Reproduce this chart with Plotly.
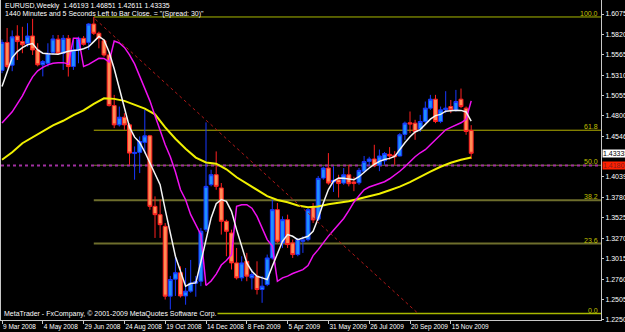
import plotly.graph_objects as go

# ---------------- data ----------------
symbol = "EURUSD,Weekly"
timer_text = '1440 Minutes and 5 Seconds Left to Bar Close. = "(Spread: 30)"'
copyright_text = "MetaTrader - FxCompany, \u00a9 2001-2009 MetaQuotes Software Corp."

date_labels = ["9 Mar 2008", "4 May 2008", "29 Jun 2008", "24 Aug 2008", "19 Oct 2008",
               "14 Dec 2008", "8 Feb 2009", "5 Apr 2009", "31 May 2009", "26 Jul 2009",
               "20 Sep 2009", "15 Nov 2009"]
date_label_bars = [0, 8, 16, 24, 32, 40, 48, 56, 64, 72, 80, 88]

price_ticks = [1.6075, 1.5820, 1.5565, 1.5310, 1.5055, 1.4800, 1.4546, 1.4039,
               1.3780, 1.3525, 1.3270, 1.3015, 1.2760, 1.2505, 1.2250]
price_tick_labels = ["1.60750", "1.58200", "1.55650", "1.53100", "1.50550", "1.48000",
                     "1.45460", "1.40390", "1.37800", "1.35250", "1.32700", "1.30150",
                     "1.27600", "1.25050", "1.22500"]

opens = [1.5370, 1.5720, 1.5435, 1.5800, 1.5730, 1.5705, 1.5800, 1.5626, 1.5440, 1.5459,
         1.5596, 1.5760, 1.5584, 1.5771, 1.5418, 1.5626, 1.5771, 1.5720, 1.5950, 1.5834,
         1.5740, 1.5563, 1.4930, 1.4689, 1.4785, 1.4689, 1.4330, 1.4345, 1.4470, 1.4552,
         1.3670, 1.3566, 1.3420, 1.2547, 1.2760, 1.2840, 1.2550, 1.2610, 1.2710, 1.2734,
         1.3379, 1.3941, 1.4066, 1.3900, 1.3483, 1.3337, 1.2963, 1.2776, 1.2983, 1.2776,
         1.2797, 1.2630, 1.2692, 1.3025, 1.3629, 1.3213, 1.3504, 1.3213, 1.3067, 1.3233,
         1.3254, 1.3660, 1.3510, 1.4024, 1.4149, 1.3975, 1.4003, 1.3961, 1.4065, 1.3975,
         1.3965, 1.4110, 1.4232, 1.4262, 1.4185, 1.4240, 1.4320, 1.4310, 1.4300, 1.4570,
         1.4715, 1.4710, 1.4640, 1.4731, 1.4898, 1.5010, 1.4731, 1.4877, 1.4918, 1.4877,
         1.5010, 1.4898, 1.46193]
highs = [1.5755, 1.5900, 1.5870, 1.5935, 1.5915, 1.5960, 1.6015, 1.5710, 1.5500, 1.5709,
         1.5813, 1.5813, 1.5813, 1.5813, 1.5750, 1.5792, 1.5800, 1.5960, 1.6038, 1.5855,
         1.5760, 1.5580, 1.5064, 1.4918, 1.4835, 1.4710, 1.4419, 1.4544, 1.4876, 1.4564,
         1.3795, 1.3754, 1.3462, 1.2800, 1.3040, 1.2920, 1.2900, 1.3000, 1.2800, 1.3400,
         1.4720, 1.4128, 1.4357, 1.3962, 1.3504, 1.3379, 1.3150, 1.3046, 1.3088, 1.2880,
         1.2983, 1.2797, 1.3067, 1.3754, 1.3712, 1.3545, 1.3566, 1.3254, 1.3275, 1.3296,
         1.3650, 1.3712, 1.4050, 1.4169, 1.4336, 1.4169, 1.4065, 1.4149, 1.4190, 1.4040,
         1.4150, 1.4300, 1.4290, 1.4440, 1.4380, 1.4350, 1.4411, 1.4360, 1.4586, 1.4730,
         1.4856, 1.4752, 1.4814, 1.4981, 1.5064, 1.5064, 1.4918, 1.5110, 1.5000, 1.5126,
         1.5143, 1.4918, 1.46851]
lows = [1.5335, 1.5395, 1.5360, 1.5500, 1.5585, 1.5665, 1.5563, 1.5420, 1.5295, 1.5418,
        1.5563, 1.5563, 1.5376, 1.5293, 1.5376, 1.5459, 1.5680, 1.5626, 1.5813, 1.5646,
        1.5542, 1.4918, 1.4648, 1.4668, 1.4627, 1.4190, 1.4003, 1.4086, 1.4330, 1.3628,
        1.3275, 1.3275, 1.2505, 1.2330, 1.2550, 1.2530, 1.2440, 1.2590, 1.2540, 1.2672,
        1.3350, 1.3920, 1.3878, 1.3317, 1.3046, 1.2880, 1.2755, 1.2734, 1.2734, 1.2630,
        1.2568, 1.2464, 1.2672, 1.3005, 1.3213, 1.3150, 1.3150, 1.3025, 1.3046, 1.3088,
        1.3233, 1.3462, 1.3490, 1.4003, 1.3940, 1.3850, 1.3780, 1.3940, 1.3920, 1.3860,
        1.3940, 1.4086, 1.4180, 1.4160, 1.4110, 1.4190, 1.4253, 1.4190, 1.4294, 1.4500,
        1.4586, 1.4502, 1.4600, 1.4710, 1.4877, 1.4710, 1.4710, 1.4835, 1.4835, 1.4856,
        1.4898, 1.4565, 1.42611]
closes = [1.5720, 1.5420, 1.5790, 1.5730, 1.5690, 1.5800, 1.5626, 1.5440, 1.5480, 1.5584,
          1.5763, 1.5584, 1.5771, 1.5418, 1.5626, 1.5771, 1.5696, 1.5950, 1.5834, 1.5771,
          1.5563, 1.4930, 1.4689, 1.4785, 1.4689, 1.4336, 1.4345, 1.4481, 1.4552, 1.3670,
          1.3566, 1.3441, 1.2547, 1.2755, 1.2840, 1.2550, 1.2610, 1.2710, 1.2730, 1.3358,
          1.3920, 1.4066, 1.3920, 1.3483, 1.3358, 1.2963, 1.2776, 1.2963, 1.2797, 1.2817,
          1.2630, 1.2672, 1.3025, 1.3629, 1.3233, 1.3504, 1.3192, 1.3067, 1.3254, 1.3250,
          1.3629, 1.3500, 1.4020, 1.4149, 1.3961, 1.3995, 1.3955, 1.4065, 1.3953, 1.3955,
          1.4120, 1.4230, 1.4262, 1.4180, 1.4300, 1.4330, 1.4300, 1.4290, 1.4565, 1.4710,
          1.4700, 1.4606, 1.4731, 1.4898, 1.5010, 1.4731, 1.4877, 1.4898, 1.4877, 1.4981,
          1.4918, 1.4606, 1.43335]

white_ma = [1.5168, 1.5350, 1.5530, 1.5605, 1.5655, 1.5690, 1.5705, 1.5625, 1.5585, 1.5578,
            1.5572, 1.5572, 1.5590, 1.5610, 1.5618, 1.5624, 1.5640, 1.5667, 1.5730, 1.5795,
            1.5750, 1.5600, 1.5390, 1.5140, 1.4890, 1.4660, 1.4535, 1.4470, 1.4350, 1.4220,
            1.4090, 1.3941, 1.3629, 1.3337, 1.3046, 1.2859, 1.2672, 1.2705, 1.2713, 1.2975,
            1.3263, 1.3525, 1.3704, 1.3754, 1.3733, 1.3608, 1.3379, 1.3171, 1.2963, 1.2859,
            1.2796, 1.2776, 1.2755, 1.2921, 1.3088, 1.3233, 1.3317, 1.3296, 1.3254, 1.3275,
            1.3296, 1.3358, 1.3520, 1.3712, 1.3880, 1.3985, 1.4024, 1.4020, 1.4012, 1.4003,
            1.4040, 1.4100, 1.4150, 1.4195, 1.4232, 1.4255, 1.4270, 1.4295, 1.4385, 1.4465,
            1.4540, 1.4600, 1.4630, 1.4690, 1.4760, 1.4805, 1.4820, 1.4860, 1.4870, 1.4872,
            1.4870, 1.4850, 1.4735]

magenta_ma = [1.4711, 1.4777, 1.4852, 1.4952, 1.5052, 1.5177, 1.5289, 1.5364, 1.5408, 1.5439,
              1.5460, 1.5467, 1.5467, 1.5451, 1.5772, 1.5772, 1.5418, 1.5445, 1.5489, 1.5522,
              1.5520, 1.5476, 1.5738, 1.5713, 1.5657, 1.5564, 1.5451, 1.5301, 1.5139, 1.4989,
              1.4802, 1.4615, 1.4440, 1.4290, 1.4103, 1.3878, 1.3753, 1.3566, 1.3441, 1.3316,
              1.2680, 1.2736, 1.2823, 1.2936, 1.2992, 1.3067, 1.3670, 1.3691, 1.3691, 1.3647,
              1.3545, 1.3404, 1.3254, 1.3173, 1.2733, 1.2776, 1.2798, 1.2830, 1.2854, 1.2879,
              1.2929, 1.3054, 1.3129, 1.3217, 1.3298, 1.3372, 1.3447, 1.3519, 1.3616, 1.3722,
              1.3803, 1.3878, 1.3912, 1.3936, 1.3957, 1.3978, 1.4015, 1.4059, 1.4109, 1.4165,
              1.4228, 1.4290, 1.4340, 1.4378, 1.4440, 1.4502, 1.4565, 1.4627, 1.4658, 1.4690,
              1.4715, 1.4758, 1.4989]

yellow_bars = list(range(0, 93, 2))
yellow_ma = [1.4253, 1.4346, 1.4459, 1.4534, 1.4602, 1.4683, 1.4740, 1.4811, 1.4871, 1.4952,
             1.5021, 1.5014, 1.4989, 1.4939, 1.4892, 1.4821, 1.4658, 1.4515, 1.4390, 1.4280,
             1.4219, 1.4203, 1.4134, 1.4034, 1.3953, 1.3872, 1.3797, 1.3750, 1.3722, 1.3681,
             1.3660, 1.3668, 1.3697, 1.3716, 1.3735, 1.3766, 1.3795, 1.3828, 1.3872, 1.3916,
             1.3972, 1.4040, 1.4103, 1.4165, 1.4215, 1.4253, 1.4281]

fib_levels = [1.6038, 1.4622, 1.4184, 1.3746, 1.3205, 1.2330]
fib_labels = ["100.0", "61.8", "50.0", "38.2", "23.6", "0.0"]
fib_colors = ["#A8B800", "#B4B000", "#7A7A30", "#6E6E2C", "#6E6E2C", "#A8B800"]
fib_widths = [1, 1, 1, 2, 2, 1.5]
fib_start_bar = 18

trend_bars = [18.3, 81.6]
trend_prices = [1.6010, 1.2330]

hline_price = 1.4180
hline_label = "1.41800"

# ---------------- figure ----------------
bars = list(range(len(opens)))
X_MIN, X_MAX = -0.196, 117.45
Y_MIN, Y_MAX = 1.2249, 1.62502
NARROW = "Liberation Sans Narrow, Liberation Sans"

fig = go.Figure()

fig.add_trace(go.Candlestick(
    x=bars, open=opens, high=highs, low=lows, close=closes,
    increasing=dict(line=dict(color="#1838FF", width=1), fillcolor="#1E90FF"),
    decreasing=dict(line=dict(color="#FF2020", width=1), fillcolor="#FF8C55"),
    whiskerwidth=0, showlegend=False, hoverinfo="skip"))

fig.add_trace(go.Scatter(x=yellow_bars, y=yellow_ma, mode="lines",
                         line=dict(color="#F0F000", width=2), showlegend=False, hoverinfo="skip"))
fig.add_trace(go.Scatter(x=bars, y=magenta_ma, mode="lines",
                         line=dict(color="#F010F0", width=1.5), showlegend=False, hoverinfo="skip"))
fig.add_trace(go.Scatter(x=bars, y=white_ma, mode="lines",
                         line=dict(color="#F4F4F4", width=1.5), showlegend=False, hoverinfo="skip"))
fig.add_trace(go.Scatter(x=trend_bars, y=trend_prices, mode="lines",
                         line=dict(color="#B01818", width=1, dash="dot"),
                         showlegend=False, hoverinfo="skip"))

shapes = []
for lvl, col, w in zip(fib_levels, fib_colors, fib_widths):
    shapes.append(dict(type="line", xref="x", yref="y", x0=fib_start_bar, x1=X_MAX,
                       y0=lvl, y1=lvl, line=dict(color=col, width=w), layer="below"))
shapes.append(dict(type="line", xref="x", yref="y", x0=X_MIN, x1=X_MAX,
                   y0=hline_price, y1=hline_price,
                   line=dict(color="#A030A0", width=2, dash="dot"), layer="below"))

annotations = []
for lvl, lab in zip(fib_levels, fib_labels):
    annotations.append(dict(xref="paper", yref="y", x=1, y=lvl, text=lab, showarrow=False,
                            xanchor="right", yanchor="bottom", xshift=-1, yshift=-2,
                            font=dict(family="Liberation Sans", size=7, color="#C0C000")))

title_line = "%s  %.5f %.5f %.5f %.5f" % (symbol, opens[-1], highs[-1], lows[-1], closes[-1])
annotations.append(dict(xref="paper", yref="paper", x=0, y=1, text=title_line, showarrow=False,
                        xanchor="left", yanchor="top", xshift=2, yshift=0,
                        font=dict(family="Liberation Sans", size=7, color="#FFFFFF")))
annotations.append(dict(xref="paper", yref="paper", x=0, y=1, text=timer_text, showarrow=False,
                        xanchor="left", yanchor="top", xshift=2, yshift=-8,
                        font=dict(family="Liberation Sans", size=7, color="#FFFFFF")))
annotations.append(dict(xref="paper", yref="y", x=0, y=fib_levels[-1], text=copyright_text,
                        showarrow=False, xanchor="left", yanchor="middle", xshift=2,
                        bgcolor="#000000", borderpad=0,
                        font=dict(family="Liberation Sans", size=7, color="#FFFFFF")))
annotations.append(dict(xref="paper", yref="y", x=1, y=closes[-1], text="%.5f" % closes[-1],
                        showarrow=False, xanchor="left", yanchor="middle", xshift=1,
                        bgcolor="#FFFFFF", borderpad=0,
                        font=dict(family=NARROW, size=7, color="#000000")))
annotations.append(dict(xref="paper", yref="y", x=1, y=hline_price, text=hline_label,
                        showarrow=False, xanchor="left", yanchor="middle", xshift=1,
                        bgcolor="#FF2000", borderpad=0,
                        font=dict(family=NARROW, size=7, color="#802020")))

fig.update_layout(
    width=625, height=332,
    margin=dict(l=1, r=24, t=0, b=12),
    paper_bgcolor="#000000", plot_bgcolor="#000000",
    boxgap=0.2, boxgroupgap=0.05,
    hovermode=False,
    shapes=shapes, annotations=annotations,
    xaxis=dict(range=[X_MIN, X_MAX], rangeslider=dict(visible=False),
               showgrid=False, zeroline=False, automargin=False,
               tickmode="array", tickvals=date_label_bars, ticktext=date_labels,
               tickangle=0,
               ticks="outside", ticklen=3, tickcolor="#C8C8C8",
               ticklabelposition="outside right",
               tickfont=dict(family="Liberation Sans", size=6.5, color="#FFFFFF"),
               showline=True, linecolor="#C8C8C8", linewidth=1),
    yaxis=dict(range=[Y_MIN, Y_MAX], side="right", automargin=False,
               showgrid=False, zeroline=False,
               tickmode="array", tickvals=price_ticks, ticktext=price_tick_labels,
               ticks="outside", ticklen=2, tickcolor="#C8C8C8",
               tickfont=dict(family=NARROW, size=7, color="#FFFFFF"),
               showline=True, mirror=True, linecolor="#C8C8C8", linewidth=1),
)

fig.write_html("out.html")
